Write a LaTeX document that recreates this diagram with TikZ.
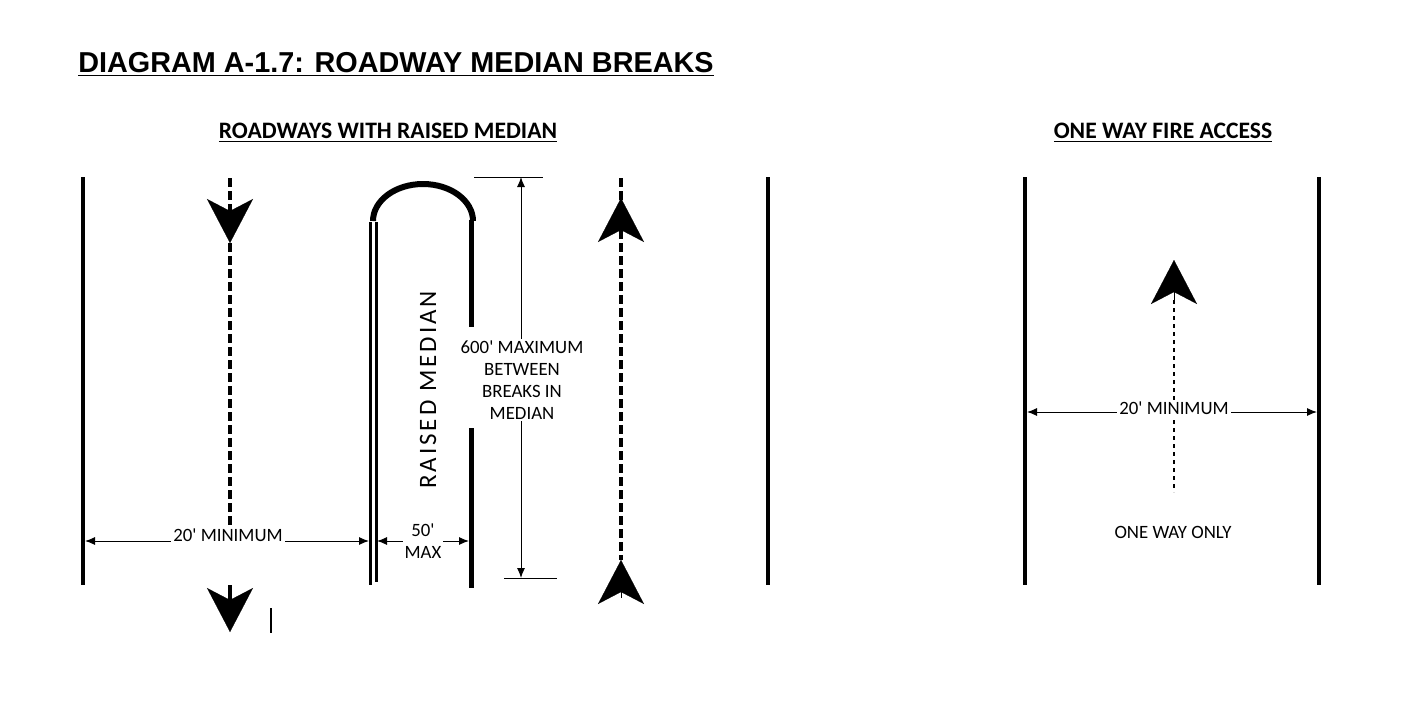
\documentclass[tikz,border=0pt]{standalone}
\usepackage{fontspec}
\setmainfont{Carlito}
\newfontfamily\titlefont{Liberation Sans}
\usetikzlibrary{arrows.meta}
\newcommand{\ft}{\textquotesingle}
\begin{document}
\begin{tikzpicture}[x=0.5pt,y=-0.5pt,line join=miter,
  curb/.style={line width=2pt},
  lane/.style={line width=1.6pt,dash pattern=on 4.5pt off 2pt},
  dim/.style={line width=0.5pt,{Latex[length=5pt,width=4pt]}-{Latex[length=5pt,width=4pt]}},
  flow/.style={line width=0.1pt,-{Stealth[length=22pt,width=23pt,inset=6pt]}},
  lbl/.style={font=\fontsize{9.4}{11}\selectfont,fill=white,inner sep=1pt,align=center}]
\useasboundingbox (0,0) rectangle (1405,702);
%% headings
\node (title) [anchor=base west,inner sep=0pt] at (78,72)
  {\titlefont\bfseries\fontsize{14.4}{16}\selectfont\underline{DIAGRAM A-1.7: ROADWAY MEDIAN BREAKS}};
\node (head1) at (388,133) {\bfseries\fontsize{11.8}{13}\selectfont\underline{ROADWAYS WITH RAISED MEDIAN}};
\node (head2) at (1163,133) {\bfseries\fontsize{11.8}{13}\selectfont\underline{ONE WAY FIRE ACCESS}};
%% roadway with raised median
\coordinate (le1) at (83,177);   \coordinate (le2) at (83,585);
\coordinate (re1) at (768,177);  \coordinate (re2) at (768,585);
\draw[curb] (le1) -- (le2);
\draw[curb] (re1) -- (re2);
\draw[lane] (230,178) -- (230,530);
\draw[lane] (621,178) -- (621,560);
\draw[flow] (230,205) -- (230,243);
\draw[line width=1.6pt] (230,585) -- (230,600);
\draw[flow] (230,595) -- (230,632);
\draw[flow] (621,236) -- (621,198);
\draw[flow] (621,598) -- (621,560);
\draw[line width=1pt] (271,608) -- (271,633);
% median
\draw[line width=1.5pt] (370,222) -- (370,585);
\draw[line width=1.5pt] (376,222) -- (376,582);
\draw[line width=3pt] (373,221) arc[start angle=180,end angle=0,x radius=50,y radius=-37];
\draw[line width=2.5pt] (471,220) -- (471,327);
\draw[line width=2.5pt] (471,428) -- (471,588);
\node (raised) [rotate=90,font=\fontsize{12.5}{14}\selectfont\addfontfeature{LetterSpace=12}] at (428,390) {RAISED MEDIAN};
% dimensions
\coordinate (t1) at (474,177); \coordinate (t2) at (543,177);
\coordinate (b1) at (504,578); \coordinate (b2) at (557,578);
\draw[line width=0.5pt] (t1) -- (t2);
\draw[line width=0.5pt] (b1) -- (b2);
\draw[dim] (521,177) -- (521,578);
\node (maxlbl) [lbl] at (522,380) {600\ft{} MAXIMUM\\BETWEEN\\BREAKS IN\\MEDIAN};
\draw[dim] (85,541) -- (369,541);
\node (min1) [lbl] at (228,535) {20\ft{} MINIMUM};
\draw[dim] (377,541) -- (469,541);
\node (max50) [lbl] at (423,541) {50\ft\\MAX};
%% one way fire access
\draw[curb] (1025,177) -- (1025,585);
\draw[curb] (1319,177) -- (1319,585);
\draw[line width=0.8pt,dash pattern=on 2pt off 2pt] (1174,300) -- (1174,492);
\draw[flow] (1174,300) -- (1174,260);
\draw[dim] (1027,412) -- (1317,412);
\node (min2) [lbl] at (1174,408) {20\ft{} MINIMUM};
\node (oneway) [lbl] at (1173,532) {ONE WAY ONLY};
\end{tikzpicture}
\end{document}
